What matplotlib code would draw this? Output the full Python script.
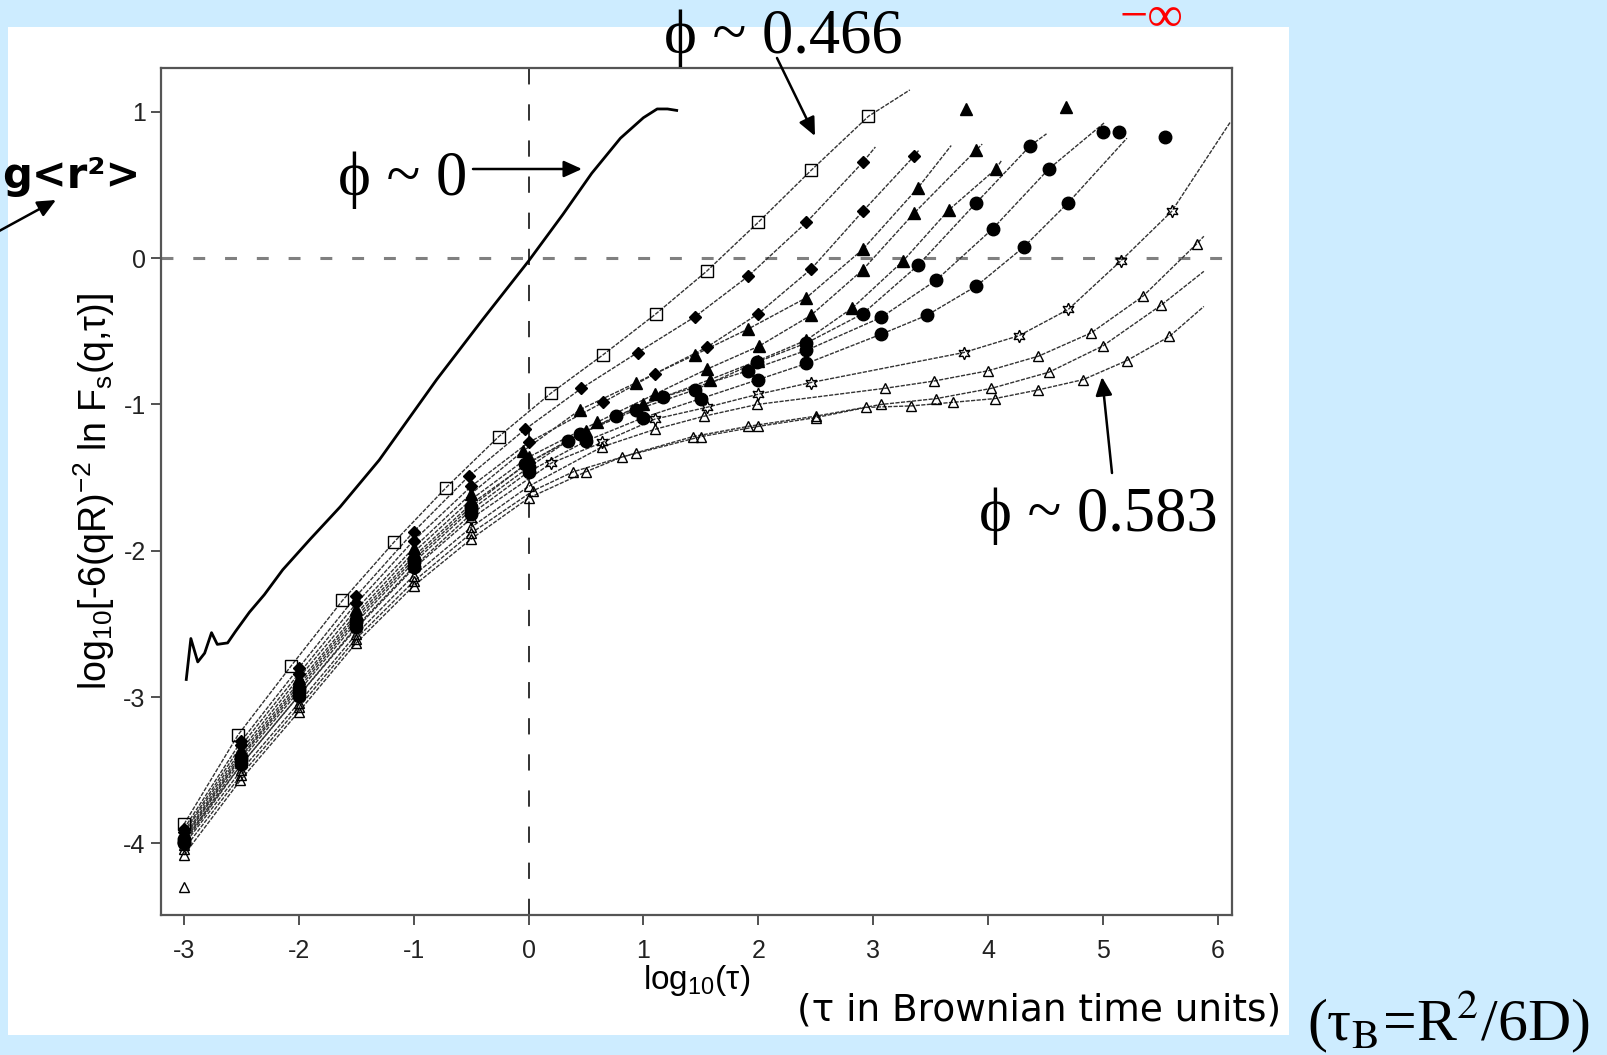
import matplotlib
matplotlib.use('Agg')
import matplotlib.pyplot as plt
from matplotlib import font_manager
from matplotlib.patches import Rectangle

W, H = 1607, 1055

# phi ~ 0 : free diffusion (solid line, no markers)
free_x = [-2.98, -2.94, -2.88, -2.82, -2.76, -2.71, -2.62, -2.55, -2.43, -2.30, -2.14, -1.90,
          -1.64, -1.30, -0.80, -0.40, 0.00, 0.30, 0.55, 0.80, 1.00, 1.12, 1.21, 1.29]
free_y = [-2.88, -2.60, -2.76, -2.70, -2.56, -2.64, -2.63, -2.55, -2.42, -2.30, -2.13, -1.92,
          -1.70, -1.38, -0.83, -0.42, -0.02, 0.30, 0.58, 0.82, 0.96, 1.02, 1.02, 1.01]

# open squares, phi ~ 0.466
sq_x = [-3.00, -2.53, -2.07, -1.62, -1.17, -0.72, -0.26, 0.20, 0.65, 1.11, 1.55, 2.00, 2.46, 2.96]
sq_y = [-3.87, -3.26, -2.79, -2.34, -1.94, -1.57, -1.22, -0.92, -0.66, -0.38, -0.09, 0.245, 0.60, 0.97]
sq_end = (3.32, 1.15)

# filled diamonds
dia1_x = [-3.00, -2.50, -2.00, -1.50, -1.00, -0.52, -0.03, 0.46, 0.95, 1.45, 1.91, 2.42, 2.91]
dia1_y = [-3.90, -3.30, -2.80, -2.31, -1.87, -1.49, -1.17, -0.89, -0.645, -0.40, -0.125, 0.245, 0.655]
dia1_end = (3.02, 0.76)
dia2_x = [-3.00, -2.50, -2.00, -1.50, -1.00, -0.50, 0.00, 0.65, 1.10, 1.55, 2.00, 2.46, 2.91, 3.36]
dia2_y = [-3.92, -3.33, -2.84, -2.36, -1.93, -1.56, -1.26, -0.985, -0.79, -0.61, -0.38, -0.075, 0.32, 0.70]
dia2_end = (3.40, 0.74)

# filled triangles
tri1_x = [-3.00, -2.50, -2.00, -1.50, -1.00, -0.50, -0.05, 0.45, 0.94, 1.45, 1.91, 2.42, 2.91, 3.39]
tri1_y = [-3.93, -3.36, -2.87, -2.40, -1.98, -1.61, -1.32, -1.035, -0.85, -0.66, -0.485, -0.27, 0.06, 0.48]
tri1_end = (3.68, 0.77)
tri2_x = [-3.00, -2.50, -2.00, -1.50, -1.00, -0.50, 0.00, 0.60, 1.10, 1.55, 2.01, 2.46, 2.91, 3.36, 3.90]
tri2_y = [-3.95, -3.38, -2.90, -2.43, -2.01, -1.65, -1.36, -1.12, -0.93, -0.76, -0.60, -0.39, -0.08, 0.31, 0.74]
tri2_end = (3.95, 0.78)
tri3_x = [-3.00, -2.50, -2.00, -1.50, -1.00, -0.50, 0.00, 0.50, 1.00, 1.58, 2.00, 2.42, 2.82, 3.26, 3.66, 4.07]
tri3_y = [-3.96, -3.40, -2.92, -2.45, -2.04, -1.68, -1.40, -1.18, -1.00, -0.83, -0.70, -0.56, -0.34, -0.02, 0.33, 0.61]
tri3_end = (4.12, 0.67)

# filled circles
circ1_x = [-3.00, -2.50, -2.00, -1.50, -1.00, -0.50, -0.03, 0.45, 0.94, 1.45, 1.99, 2.42, 2.91, 3.39, 3.90, 4.37]
circ1_y = [-3.97, -3.41, -2.94, -2.47, -2.06, -1.70, -1.41, -1.20, -1.035, -0.90, -0.71, -0.58, -0.38, -0.05, 0.38, 0.77]
circ1_end = (4.51, 0.85)
circ2_x = [-3.00, -2.50, -2.00, -1.50, -1.00, -0.50, 0.00, 0.34, 0.76, 1.17, 1.91, 2.42, 3.07, 3.55, 4.04, 4.53]
circ2_y = [-3.99, -3.43, -2.96, -2.49, -2.08, -1.72, -1.43, -1.25, -1.08, -0.95, -0.77, -0.63, -0.405, -0.15, 0.20, 0.61]
circ2_end = (5.02, 0.93)
circ3_x = [-3.00, -2.50, -2.00, -1.50, -1.00, -0.50, 0.00, 0.50, 1.00, 1.50, 2.00, 2.42, 3.07, 3.47, 3.90, 4.31, 4.70]
circ3_y = [-4.00, -3.46, -2.99, -2.52, -2.11, -1.75, -1.46, -1.25, -1.09, -0.96, -0.83, -0.72, -0.52, -0.39, -0.19, 0.075, 0.38]
circ3_end = (5.21, 0.82)

# open hexagrams
hex_x = [-3.00, -2.50, -2.00, -1.50, -1.00, -0.50, 0.20, 0.64, 1.10, 1.55, 2.00, 2.46, 3.79, 4.27, 4.70, 5.16, 5.60]
hex_y = [-3.98, -3.46, -2.99, -2.53, -2.12, -1.78, -1.40, -1.26, -1.10, -1.02, -0.93, -0.85, -0.645, -0.53, -0.35, -0.016, 0.32]
hex_end = (6.11, 0.93)

# open triangles (lowest one: phi ~ 0.583)
otri1_x = [-3.00, -2.50, -2.00, -1.50, -1.00, -0.50, 0.00, 0.64, 1.10, 1.53, 1.99, 3.10, 3.53, 4.00, 4.44, 4.90, 5.35, 5.82]
otri1_y = [-4.01, -3.50, -3.04, -2.57, -2.17, -1.84, -1.56, -1.29, -1.17, -1.08, -1.00, -0.89, -0.84, -0.77, -0.67, -0.51, -0.26, 0.10]
otri1_end = (5.88, 0.15)
otri2_x = [-3.00, -2.50, -2.00, -1.50, -1.00, -0.50, 0.04, 0.39, 0.94, 1.43, 1.91, 2.50, 3.07, 3.55, 4.03, 4.53, 5.00, 5.51]
otri2_y = [-4.04, -3.53, -3.07, -2.60, -2.21, -1.88, -1.59, -1.46, -1.33, -1.22, -1.15, -1.08, -1.00, -0.96, -0.89, -0.78, -0.60, -0.32]
otri2_end = (5.88, -0.09)
otri3_x = [-3.00, -2.51, -2.00, -1.50, -1.00, -0.50, 0.00, 0.50, 0.81, 1.50, 2.00, 2.50, 2.94, 3.33, 3.70, 4.06, 4.44, 4.83, 5.21, 5.58]
otri3_y = [-4.08, -3.57, -3.10, -2.63, -2.24, -1.92, -1.64, -1.46, -1.36, -1.22, -1.15, -1.09, -1.02, -1.01, -0.985, -0.96, -0.90, -0.83, -0.70, -0.535]
otri3_end = (5.88, -0.33)

# last, noisy points off the fitted lines
stray_tri_x = [3.81, 4.68]
stray_tri_y = [1.02, 1.03]
stray_circ_x = [5.00, 5.14, 5.54]
stray_circ_y = [0.86, 0.86, 0.83]
stray_otri_x = [-3.00]
stray_otri_y = [-4.30]

installed = {f.name for f in font_manager.fontManager.ttflist}
sans = 'Liberation Sans Narrow' if 'Liberation Sans Narrow' in installed else 'Liberation Sans'
plt.rcParams['font.family'] = [sans, 'DejaVu Sans']
plt.rcParams['axes.unicode_minus'] = False
plt.rcParams['mathtext.fontset'] = 'custom'
plt.rcParams['mathtext.rm'] = sans
plt.rcParams['mathtext.it'] = sans + ':italic'
plt.rcParams['mathtext.sf'] = sans

fig = plt.figure(figsize=(W / 100, H / 100), dpi=100, facecolor='#cdecff')
fig.add_artist(Rectangle((8 / W, 1 - 1035 / H), (1289 - 8) / W, (1035 - 27) / H,
                         transform=fig.transFigure, facecolor='white', edgecolor='none', zorder=-1))
ax = fig.add_axes([161 / W, 1 - 915 / H, (1232 - 161) / W, (915 - 68) / H])
ax.set_facecolor('white')
ax.set_xlim(-3.20, 6.125)
ax.set_ylim(-4.49, 1.30)

ax.axhline(0, color='#808080', lw=2.2, dashes=(3.9, 6.5), zorder=1)
ax.axvline(0, color='#222222', lw=1.3, dashes=(9, 11), zorder=1)

ax.plot(free_x, free_y, color='black', lw=2.0, zorder=4)

series = [
    (sq_x, sq_y, sq_end, 's', 'none', 9),
    (dia1_x, dia1_y, dia1_end, 'D', 'black', 6.5),
    (dia2_x, dia2_y, dia2_end, 'D', 'black', 6.5),
    (tri1_x, tri1_y, tri1_end, '^', 'black', 8),
    (tri2_x, tri2_y, tri2_end, '^', 'black', 8),
    (tri3_x, tri3_y, tri3_end, '^', 'black', 8),
    (circ1_x, circ1_y, circ1_end, 'o', 'black', 9),
    (circ2_x, circ2_y, circ2_end, 'o', 'black', 9),
    (circ3_x, circ3_y, circ3_end, 'o', 'black', 9),
    (hex_x, hex_y, hex_end, (6, 1, 0), 'none', 9),
    (otri1_x, otri1_y, otri1_end, '^', 'none', 7),
    (otri2_x, otri2_y, otri2_end, '^', 'none', 7),
    (otri3_x, otri3_y, otri3_end, '^', 'none', 7),
]
for xs, ys, end, m, fc, ms in series:
    ax.plot(xs + [end[0]], ys + [end[1]], color='#333333', lw=1.0, ls=(0, (3, 1)), zorder=2)
    ax.plot(xs, ys, ls='none', marker=m, ms=ms, mfc=fc, mec='black', mew=1.0, zorder=3)

ax.plot(stray_tri_x, stray_tri_y, ls='none', marker='^', ms=8, color='black', zorder=3)
ax.plot(stray_circ_x, stray_circ_y, ls='none', marker='o', ms=9, color='black', zorder=3)
ax.plot(stray_otri_x, stray_otri_y, ls='none', marker='^', ms=7, mfc='none', mec='black', zorder=3)

ax.set_xticks(range(-3, 7))
ax.set_yticks(range(-4, 2))
ax.tick_params(direction='out', length=7, width=1.2, color='#333333', labelcolor='#222222',
               labelsize=18)
ax.tick_params(axis='x', pad=10)
ax.tick_params(axis='y', pad=4)
for s in ax.spines.values():
    s.set_color('#555555')
    s.set_linewidth(1.6)

ax.set_ylabel(r'log$_{10}$[-6(qR)$^{-2}$ ln F$_{\mathrm{s}}$(q,τ)]', fontsize=27)
ax.yaxis.set_label_coords(-0.041, 0.5)
ax.set_xlabel(r'log$_{10}$(τ)', fontsize=24)
ax.xaxis.set_label_coords(0.5, -0.057)


def ftext(px, py, s, **kw):
    fig.text(px / W, 1 - py / H, s, **kw)


def farrow(x0, y0, x1, y1):
    ax.annotate('', xy=(x1, H - y1), xytext=(x0, H - y0),
                xycoords='figure pixels', textcoords='figure pixels', annotation_clip=False,
                arrowprops=dict(arrowstyle='-|>,head_length=0.55,head_width=0.25',
                                mutation_scale=20, color='black', lw=1.8, shrinkA=0, shrinkB=0))


serif = 'Liberation Serif'
ftext(664, 53, 'ϕ ~ 0.466', family=serif, fontsize=45, va='baseline')
farrow(777, 58, 815, 136)
ftext(338, 195, 'ϕ ~ 0', family=serif, fontsize=45, va='baseline')
farrow(473, 169, 582, 169)
ftext(979, 531, 'ϕ ~ 0.583', family=serif, fontsize=45, va='baseline')
farrow(1112, 473, 1102, 377)
ftext(1120, 19, '−∞', family=serif, fontsize=36, color='red', va='center')
ftext(2, 176, 'g<r²>', family='DejaVu Sans', fontsize=30, fontweight='bold', va='center')
farrow(-10, 236, 56, 200)
ftext(797, 1010, '(τ in Brownian time units)', family='DejaVu Sans', fontsize=27, va='center')
ftext(1307, 1040, r'(τ$_{\mathrm{B}}$=R$^2$/6D)', family=serif, math_fontfamily='stix',
      fontsize=43, va='baseline')

fig.savefig('out.png', dpi=100, facecolor=fig.get_facecolor())
